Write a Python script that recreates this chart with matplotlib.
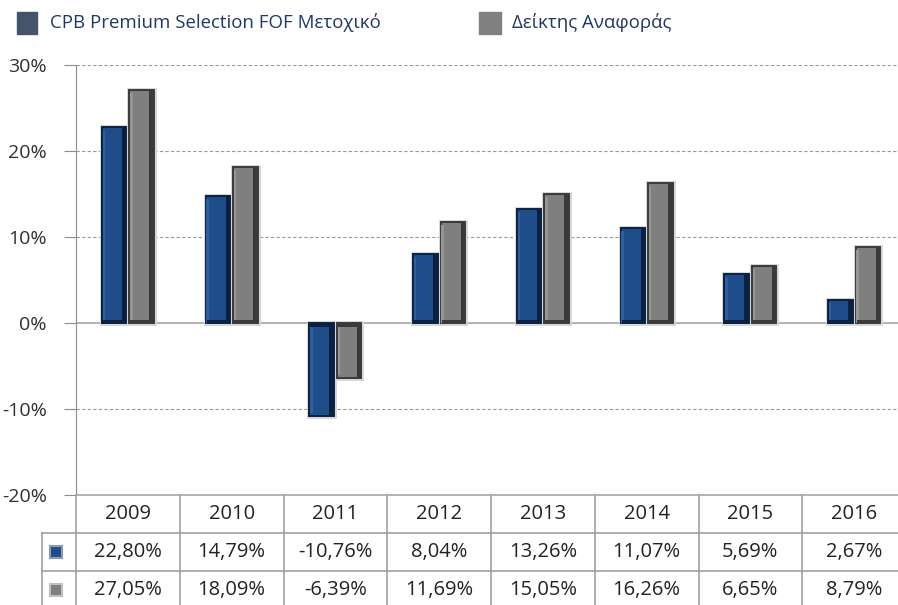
import matplotlib.pyplot as plt
import matplotlib.transforms as mtransforms
from matplotlib.patches import Rectangle
import numpy as np

years = ['2009', '2010', '2011', '2012', '2013', '2014', '2015', '2016']
fund = [22.80, 14.79, -10.76, 8.04, 13.26, 11.07, 5.69, 2.67]
bench = [27.05, 18.09, -6.39, 11.69, 15.05, 16.26, 6.65, 8.79]
fund_name = 'CPB Premium Selection FOF Μετοχικό'
bench_name = 'Δείκτης Αναφοράς'

plt.rcParams['font.family'] = ['Open Sans', 'DejaVu Sans']

W, H = 898, 605
fig = plt.figure(figsize=(W / 100, H / 100), dpi=100)
# plot area in pixels: x 76..906 (last column runs off the picture), y 65..495
ax = fig.add_axes([76 / W, 1 - 495 / H, 830 / W, 430 / H])
ax.set_xlim(-0.5, 7.5)
ax.set_ylim(-20, 30)

x = np.arange(len(years))
off, bw = 0.133, 0.235
pxx = 1 / 103.7   # one pixel in x data units
pxy = 50 / 430    # one pixel in y data units

def bevel_bars(xs, vals, face, dark, light):
    vals = np.array(vals)
    sgn = np.sign(vals)
    # light halo around, then the bar itself
    ax.bar(xs, vals, width=bw, color='none', edgecolor='#d6d6d6', linewidth=3.5, zorder=3)
    ax.bar(xs, vals, width=bw, color=face, edgecolor=dark, linewidth=1.4, zorder=4)
    # bevel strips: dark on the right and at the base end, light on the left/top
    ax.bar(xs + bw / 2 - 2.5 * pxx, vals, width=4 * pxx, color=dark, zorder=5)
    ax.bar(xs - bw / 2 + 2 * pxx, vals - sgn * 3 * pxy, width=2.5 * pxx, color=light, zorder=5)
    ax.bar(xs, sgn * 3.5 * pxy, width=bw - 2 * pxx, color=dark, zorder=5)

bevel_bars(x - off, fund, '#1f4d8a', '#0b2142', '#2f5f9e')
bevel_bars(x + off, bench, '#7f7f7f', '#3a3a3a', '#969696')

# gridlines
for v in [30, 20, 10, -10]:
    ax.axhline(v, color='#9a9a9a', linestyle=(0, (3, 2)), linewidth=0.8, zorder=1)
ax.axhline(0, color='#a6a6a6', linewidth=1.2, zorder=2)

for s in ['top', 'right']:
    ax.spines[s].set_visible(False)
ax.spines['left'].set_color('#8c8c8c')
ax.spines['bottom'].set_color('#a6a6a6')
ax.spines['bottom'].set_linewidth(1.2)
ax.set_yticks([-20, -10, 0, 10, 20, 30])
ax.set_yticklabels([f'{v}%' for v in [-20, -10, 0, 10, 20, 30]])
ax.tick_params(axis='y', length=9, color='#8c8c8c', labelsize=14, labelcolor='#303030', pad=12)
ax.tick_params(axis='x', bottom=False, labelbottom=False)

# data table under the plot
tr = mtransforms.blended_transform_factory(ax.transData, ax.transAxes)
r1, r2, r3 = -38 / 430, -76 / 430, -115 / 430
key_left = -0.5 - 34 / 103.7
lc = '#a0a0a0'
for xi in np.arange(-0.5, 8.5, 1.0):
    ax.plot([xi, xi], [0, r3], color=lc, lw=1.2, transform=tr, clip_on=False)
ax.plot([key_left, key_left], [r1, r3], color=lc, lw=1.2, transform=tr, clip_on=False)
for yy in [r1, r2]:
    ax.plot([key_left, 7.5], [yy, yy], color=lc, lw=1.2, transform=tr, clip_on=False)

def fmt(v):
    return f'{v:.2f}%'.replace('.', ',')

tc = '#222222'
for i, yr in enumerate(years):
    ax.text(i, -19 / 430, yr, ha='center', va='center', fontsize=14.5, color=tc, transform=tr)
    ax.text(i, -57 / 430, fmt(fund[i]), ha='center', va='center', fontsize=14.5, color=tc, transform=tr)
    ax.text(i, -95 / 430, fmt(bench[i]), ha='center', va='center', fontsize=14.5, color=tc, transform=tr)

kx = -0.5 - 20 / 103.7
ax.plot([kx], [-57 / 430], marker='s', markersize=8, color='#1f4d8a', markeredgecolor='#8a9ab0',
        markeredgewidth=1.5, transform=tr, clip_on=False)
ax.plot([kx], [-95 / 430], marker='s', markersize=8, color='#7f7f7f', markeredgecolor='#bfbfbf',
        markeredgewidth=1.5, transform=tr, clip_on=False)

# legend on top
def px_rect(x0, y0, w, h, color):
    fig.patches.append(Rectangle((x0 / W, 1 - (y0 + h) / H), w / W, h / H,
                                 transform=fig.transFigure, color=color))

px_rect(17, 12, 20, 22, '#44546a')
fig.text(50 / W, 1 - 23 / H, fund_name, ha='left', va='center', fontsize=13.4, color='#1f3864')
px_rect(479, 12, 22, 22, '#808080')
fig.text(512 / W, 1 - 23 / H, bench_name, ha='left', va='center', fontsize=13.4, color='#1f3864')

fig.savefig('out.png', dpi=100)
